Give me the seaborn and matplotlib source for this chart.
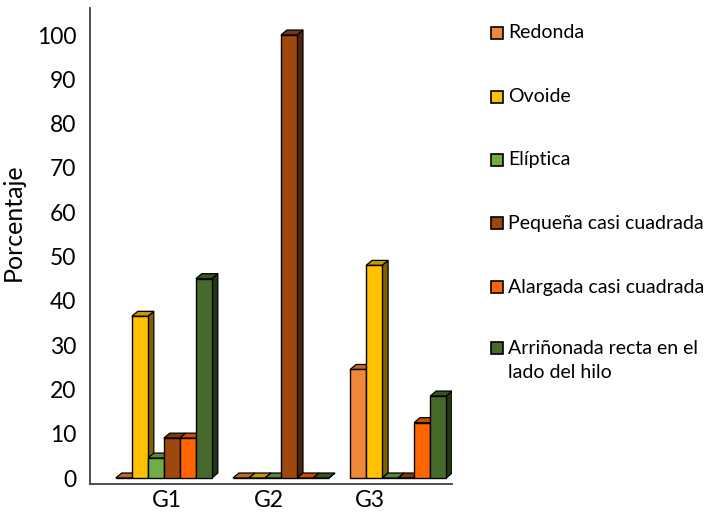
import numpy as np
import pandas as pd
import seaborn as sns
import matplotlib.pyplot as plt
from matplotlib.patches import Polygon, Rectangle
import matplotlib.colors as mcolors

# Data: percentage of each seed shape per group
groups = ["G1", "G2", "G3"]
shapes = ["Redonda", "Ovoide", "Elíptica", "Pequeña casi cuadrada",
          "Alargada casi cuadrada", "Arriñonada recta en el lado del hilo"]
legend_labels = ["Redonda", "Ovoide", "Elíptica", "Pequeña casi cuadrada",
                 "Alargada casi cuadrada", "Arriñonada recta en el\nlado del hilo"]
redonda = [0, 0, 24.5]
ovoide = [36.5, 0, 48]
eliptica = [4.5, 0, 0]
pequena = [9, 100, 0]
alargada = [9, 0, 12.5]
arrinonada = [45, 0, 18.5]
yticks = list(range(0, 101, 10))

colors = ["#F0873A", "#FFC000", "#70AD47", "#9E480E", "#FF6600", "#466A2C"]

df = pd.DataFrame({"group": groups, shapes[0]: redonda, shapes[1]: ovoide,
                   shapes[2]: eliptica, shapes[3]: pequena,
                   shapes[4]: alargada, shapes[5]: arrinonada})
long = df.melt(id_vars="group", var_name="shape", value_name="value")

sns.set_style("white")
plt.rcParams["font.family"] = ["Lato", "DejaVu Sans"]

fig = plt.figure(figsize=(7.08, 5.12), dpi=100)
ax = fig.add_axes([90 / 708, 28 / 512, 362 / 708, 476 / 512])

sns.barplot(data=long, x="group", y="value", hue="shape", order=groups,
            hue_order=shapes, palette=colors, saturation=1, width=0.82,
            edgecolor="black", linewidth=1.0, legend=False, ax=ax, zorder=10)

ax.set_xlim(-0.63, 2.46)
ax.set_ylim(-1.35, 106.1)

# pseudo-3D depth of the bars, expressed in data units
depth_px = (6.0, 5.0)
inv = ax.transData.inverted()
o = inv.transform((0, 0))
d = inv.transform(depth_px)
dx, dy = d[0] - o[0], d[1] - o[1]

bars = sorted([p for p in ax.patches if isinstance(p, Rectangle)],
              key=lambda p: p.get_x())
for i, p in enumerate(bars):
    x0, w, h = p.get_x(), p.get_width(), p.get_height()
    fc = np.array(mcolors.to_rgb(p.get_facecolor()))
    x1 = x0 + w
    side = Polygon([(x1, 0), (x1, h), (x1 + dx, h + dy), (x1 + dx, dy)],
                   closed=True, facecolor=fc * 0.5, edgecolor="black",
                   linewidth=0.9, zorder=2 + i * 0.01)
    top = Polygon([(x0, h), (x1, h), (x1 + dx, h + dy), (x0 + dx, h + dy)],
                  closed=True, facecolor=fc * 0.78, edgecolor="black",
                  linewidth=0.9, zorder=2 + i * 0.01 + 0.005)
    ax.add_patch(side)
    ax.add_patch(top)

sns.despine(ax=ax)
for s in ("left", "bottom"):
    ax.spines[s].set_color("#404040")
    ax.spines[s].set_linewidth(1.3)

ax.set_yticks(yticks)
ax.set_yticklabels([str(t) for t in yticks])
ax.set_xticks([0.03, 0.9, 1.76])
ax.set_xticklabels(groups)
ax.tick_params(axis="y", length=0, pad=10, labelsize=16.5, labelcolor="black")
ax.tick_params(axis="x", length=0, pad=4, labelsize=16.5, labelcolor="black")
ax.set_xlabel("")
ax.set_ylabel("Porcentaje", fontsize=18, color="black")
ax.yaxis.set_label_coords(-0.18, 0.55)

# legend entries on the right
entry_y = [33, 97, 160, 223, 287, 348]
for lab, col, yy in zip(legend_labels, colors, entry_y):
    fig.patches.append(Rectangle((491 / 708, 1 - (yy + 6) / 512), 12 / 708, 12 / 512,
                                 transform=fig.transFigure, facecolor=col,
                                 edgecolor="black", linewidth=1.2))
    fig.text(508 / 708, 1 - yy / 512, lab.split("\n")[0], fontsize=14,
             va="center", ha="left", color="black")
    if "\n" in lab:
        fig.text(508 / 708, 1 - (yy + 25) / 512, lab.split("\n")[1],
                 fontsize=14, va="center", ha="left", color="black")

fig.savefig("out.png", dpi=100)
